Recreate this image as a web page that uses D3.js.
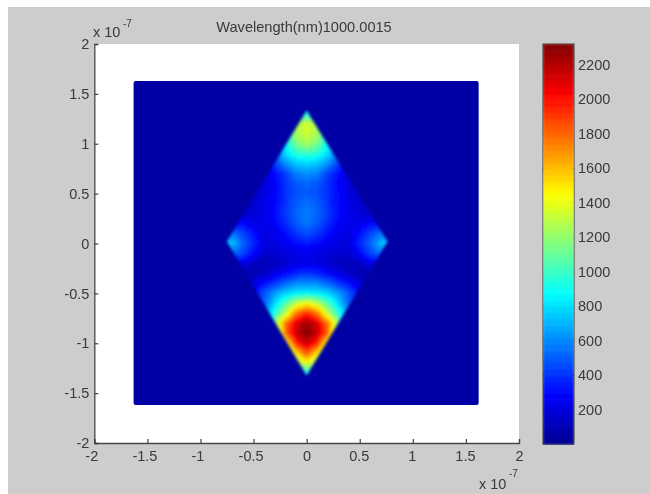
<!DOCTYPE html>
<html><head><meta charset="utf-8">
<script src="https://cdn.jsdelivr.net/npm/d3@7"></script>
<style>
html,body{margin:0;padding:0;background:#fff;overflow:hidden}
svg{display:block;position:absolute;left:0;top:0}
text{font-family:"Liberation Sans",Arial,sans-serif;fill:#3a3a3a}
</style></head><body>
<svg id="c" width="650" height="494"></svg>
<script>
const titleText = "Wavelength(nm)1000.0015";
const xTicks = [-2,-1.5,-1,-0.5,0,0.5,1,1.5,2];
const yTicks = [-2,-1.5,-1,-0.5,0,0.5,1,1.5,2];
const barTicks = [200,400,600,800,1000,1200,1400,1600,1800,2000,2200];
const barDomain = [0,2320];
const levels = 64;
const jetStops = [0,0.125,0.375,0.625,0.875,1];
const jetColors = ["#00008f","#0000ff","#00ffff","#ffff00","#ff0000","#800000"];
const backgroundValue = 60;
const sourceSquare = {x:[-1.63,1.62],y:[-1.62,1.63]};
const rhombus = [[0,1.33],[0.76,0.02],[0,-1.32],[-0.75,0.02]];
const gridX = [-0.8,-0.7,-0.6,-0.5,-0.4,-0.3,-0.2,-0.1,0,0.1,0.2,0.3,0.4,0.5,0.6,0.7,0.8];
const gridY = [1.4,1.3,1.2,1.1,1.0,0.9,0.8,0.7,0.6,0.5,0.4,0.3,0.2,0.1,0,-0.1,-0.2,-0.3,-0.4,-0.5,-0.6,-0.7,-0.8,-0.9,-1.0,-1.1,-1.2,-1.3,-1.4];
const field = [
[60,60,60,60,60,60,60,600,800,600,60,60,60,60,60,60,60],
[60,60,60,60,60,60,400,800,950,800,400,60,60,60,60,60,60],
[60,60,60,60,60,300,900,1250,1350,1250,900,300,60,60,60,60,60],
[60,60,60,60,60,450,950,1250,1350,1250,950,450,60,60,60,60,60],
[60,60,60,60,200,600,850,1150,1250,1150,850,600,200,60,60,60,60],
[60,60,60,60,250,500,800,950,1000,950,800,500,250,60,60,60,60],
[60,60,60,120,200,420,620,740,780,740,620,420,200,120,60,60,60],
[60,60,60,120,190,300,430,580,620,580,430,300,190,120,60,60,60],
[60,60,90,140,200,290,400,490,520,490,400,290,200,140,90,60,60],
[60,60,110,160,210,300,400,470,500,470,400,300,210,160,110,60,60],
[60,90,130,170,230,300,400,500,540,500,400,300,230,170,130,90,60],
[60,150,160,190,230,310,420,520,580,520,420,310,230,190,160,150,60],
[120,320,300,230,220,280,380,490,560,490,380,280,220,230,300,320,120],
[420,560,450,320,210,240,310,410,470,410,310,240,210,320,450,560,420],
[820,720,520,380,210,210,260,310,340,310,260,210,210,380,520,720,820],
[470,550,450,300,170,170,190,220,230,220,190,170,170,300,450,550,470],
[60,220,230,120,100,120,170,220,240,220,170,120,100,120,230,220,60],
[60,70,80,90,140,220,300,370,400,370,300,220,140,90,80,70,60],
[60,60,100,200,320,420,520,600,620,600,520,420,320,200,100,60,60],
[60,60,100,300,480,650,770,840,860,840,770,650,480,300,100,60,60],
[60,60,60,300,500,780,1050,1300,1450,1300,1050,780,500,300,60,60,60],
[60,60,60,100,600,950,1300,1750,1950,1750,1300,950,600,100,60,60,60],
[60,60,60,60,500,1200,1750,2100,2250,2100,1750,1200,500,60,60,60,60],
[60,60,60,60,300,900,1800,2150,2320,2150,1800,900,300,60,60,60,60],
[60,60,60,60,60,800,1350,1950,2150,1950,1350,800,60,60,60,60,60],
[60,60,60,60,60,300,1000,1500,1850,1500,1000,300,60,60,60,60,60],
[60,60,60,60,60,60,700,1200,1400,1200,700,60,60,60,60,60,60],
[60,60,60,60,60,60,200,800,900,800,200,60,60,60,60,60,60],
[60,60,60,60,60,60,60,500,700,500,60,60,60,60,60,60,60]
];

const W=650,H=494;
const svg=d3.select("#c");
const x=d3.scaleLinear().domain([-2,2]).range([94.3,519]);
const y=d3.scaleLinear().domain([-2,2]).range([443,44]);
const by=d3.scaleLinear().domain(barDomain).range([444,44]);
const jet=d3.scaleLinear().domain(jetStops.map(t=>t*barDomain[1])).range(jetColors).clamp(true);
const bandOf=d3.scaleQuantize().domain(barDomain).range(d3.range(levels).map(i=>jet((i+0.5)/levels*barDomain[1])));

const defs=svg.append("defs");
defs.append("filter").attr("id","soft").attr("x","-10%").attr("y","-10%").attr("width","120%").attr("height","120%")
  .append("feGaussianBlur").attr("stdDeviation",1.8);
defs.append("filter").attr("id","ink").attr("x","-2%").attr("y","-2%").attr("width","104%").attr("height","104%")
  .append("feGaussianBlur").attr("stdDeviation",0.35);
defs.append("filter").attr("id","barSoft").attr("x","0%").attr("y","0%").attr("width","100%").attr("height","100%")
  .append("feGaussianBlur").attr("stdDeviation",0.9);
defs.append("clipPath").attr("id","rh").append("polygon")
  .attr("points",rhombus.map(p=>[x(p[0]),y(p[1])].join(",")).join(" "));

svg.append("rect").attr("width",W).attr("height",H).attr("fill","#fff");
svg.append("rect").attr("x",8).attr("y",7).attr("width",W-8).attr("height",H-7).attr("fill","#cdcdcd");
svg.append("rect").attr("x",x(-2)).attr("y",y(2)).attr("width",x(2)-x(-2)).attr("height",y(-2)-y(2)).attr("fill","#fff");

svg.append("rect")
  .attr("x",x(sourceSquare.x[0])).attr("y",y(sourceSquare.y[1]))
  .attr("width",x(sourceSquare.x[1])-x(sourceSquare.x[0])).attr("height",y(sourceSquare.y[0])-y(sourceSquare.y[1]))
  .attr("rx",2).attr("fill",bandOf(backgroundValue));

const sub=6, cells=[];
for(let r=0;r<gridY.length-1;r++)for(let c=0;c<gridX.length-1;c++)for(let i=0;i<sub;i++)for(let j=0;j<sub;j++){
  const u=(j+0.5)/sub,v=(i+0.5)/sub;
  const top=d3.interpolateNumber(field[r][c],field[r][c+1])(u);
  const bot=d3.interpolateNumber(field[r+1][c],field[r+1][c+1])(u);
  cells.push({x0:gridX[c]+(gridX[c+1]-gridX[c])*j/sub,x1:gridX[c]+(gridX[c+1]-gridX[c])*(j+1)/sub,
              y0:gridY[r]+(gridY[r+1]-gridY[r])*i/sub,y1:gridY[r]+(gridY[r+1]-gridY[r])*(i+1)/sub,
              v:d3.interpolateNumber(top,bot)(v)});
}
svg.append("g").attr("filter","url(#soft)").append("g").attr("clip-path","url(#rh)")
  .selectAll("rect").data(cells).join("rect")
  .attr("x",d=>x(d.x0)).attr("y",d=>y(d.y0))
  .attr("width",d=>x(d.x1)-x(d.x0)+0.6).attr("height",d=>y(d.y1)-y(d.y0)+0.6)
  .attr("fill",d=>bandOf(d.v));

const ink=svg.append("g").attr("filter","url(#ink)");
const fmt=d=>String(d);

const ax=ink.append("g").attr("transform",`translate(0,${y(-2)})`)
  .call(d3.axisBottom(x).tickValues(xTicks).tickFormat(fmt).tickSize(-4).tickPadding(8));
const ay=ink.append("g").attr("transform",`translate(${x(-2)},0)`)
  .call(d3.axisLeft(y).tickValues(yTicks).tickFormat(fmt).tickSize(-4).tickPadding(5));
[ax,ay].forEach(g=>{
  g.selectAll(".domain").attr("stroke","#444").attr("stroke-width",1.3);
  g.selectAll(".tick line").attr("stroke","#444").attr("stroke-width",1.2);
  g.selectAll("text").style("font-size","14.5px").attr("fill","#3a3a3a");
});
ax.selectAll("text").attr("dx",d=>d<0?-3:(d===0||d===2?0:-1));

const bar=svg.append("g").attr("filter","url(#barSoft)");
bar.selectAll("rect").data(d3.range(levels)).join("rect")
  .attr("x",543).attr("width",31)
  .attr("y",i=>by((i+1)/levels*barDomain[1]))
  .attr("height",i=>by(i/levels*barDomain[1])-by((i+1)/levels*barDomain[1])+0.5)
  .attr("fill",i=>jet((i+0.5)/levels*barDomain[1]));
ink.append("rect").attr("x",543).attr("y",by(barDomain[1])).attr("width",31)
  .attr("height",by(barDomain[0])-by(barDomain[1])).attr("fill","none").attr("stroke","#3a3a3a").attr("stroke-width",1);
const ar=ink.append("g").attr("transform","translate(574,0)")
  .call(d3.axisRight(by).tickValues(barTicks).tickFormat(fmt).tickSize(-3).tickPadding(6));
ar.select(".domain").remove();
ar.selectAll(".tick line").attr("stroke","#333");
ar.selectAll("text").style("font-size","14.5px").attr("fill","#3a3a3a").attr("text-anchor","start").attr("x",4);
const al=ink.append("g").attr("transform","translate(543,0)")
  .call(d3.axisRight(by).tickValues(barTicks).tickFormat("").tickSize(3));
al.select(".domain").remove();
al.selectAll(".tick line").attr("stroke","#333");

ink.append("text").attr("x",304).attr("y",32).attr("text-anchor","middle").style("font-size","14.6px").text(titleText);
function exponent(xp,base,sup){
  ink.append("text").attr("x",xp).attr("y",base).style("font-size","14.5px").text("x 10");
  ink.append("text").attr("x",xp+30).attr("y",sup).style("font-size","10px").text("-7");
}
exponent(93,37,27);
exponent(479,489,477);
</script>
</body></html>
